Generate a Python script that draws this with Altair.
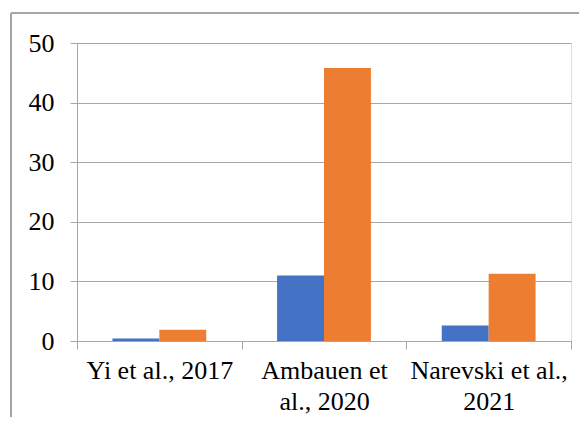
import altair as alt
import pandas as pd

studies = ["Yi et al., 2017", "Ambauen et|al., 2020", "Narevski et al.,|2021"]
series = ["A", "B"]
values_a = [0.4, 11.0, 2.6]
values_b = [1.9, 45.8, 11.3]
colors = ["#4472C4", "#ED7D31"]

rows = []
for i, s in enumerate(studies):
    rows.append({"study": s, "series": series[0], "value": values_a[i]})
    rows.append({"study": s, "series": series[1], "value": values_b[i]})
df = pd.DataFrame(rows)

FONT = "Liberation Serif, Times New Roman, serif"
GRAY = "#A6A6A6"

bars = alt.Chart(df).mark_bar().encode(
    x=alt.X("study:N", sort=studies, title=None,
            scale=alt.Scale(paddingInner=0, paddingOuter=0),
            axis=alt.Axis(labelExpr="isValid(datum.value) ? split(datum.value, '|') : ''",
                          labelAngle=0,
                          labelFont=FONT, labelFontSize=26, labelColor="#000000",
                          labelLineHeight=31, labelPadding=8, labelLimit=0,
                          labelOverlap=False, labelBound=False,
                          tickBand="extent", tickSize=8, tickColor=GRAY,
                          domainColor=GRAY, grid=False)),
    xOffset=alt.XOffset("series:N", scale=alt.Scale(paddingOuter=0.755, paddingInner=0)),
    y=alt.Y("value:Q", title=None,
            scale=alt.Scale(domain=[0, 50], nice=False),
            axis=alt.Axis(values=[0, 10, 20, 30, 40, 50], labelFont=FONT, labelFontSize=26,
                          labelColor="#000000", labelPadding=16, tickSize=7, tickColor=GRAY,
                          domainColor=GRAY, gridColor=GRAY, gridWidth=1)),
    color=alt.Color("series:N", scale=alt.Scale(domain=series, range=colors), legend=None),
)

border_left = alt.Chart(df).mark_rule(color=GRAY, strokeWidth=1.2, clip=False).encode(
    x=alt.value(-66), y=alt.value(-30), y2=alt.value(420))
border_top = alt.Chart(df).mark_rule(color=GRAY, strokeWidth=1.2, clip=False).encode(
    x=alt.value(-66), x2=alt.value(540), y=alt.value(-30))

chart = alt.layer(bars, border_left, border_top).properties(
    width=494, height=298,
    padding={"left": 69, "top": 35, "right": 8, "bottom": 76},
    autosize=alt.AutoSizeParams(type="none"),
).configure_view(stroke=None).configure(background="white")

chart.save("out.html", embed_options={"renderer": "svg", "actions": False})
